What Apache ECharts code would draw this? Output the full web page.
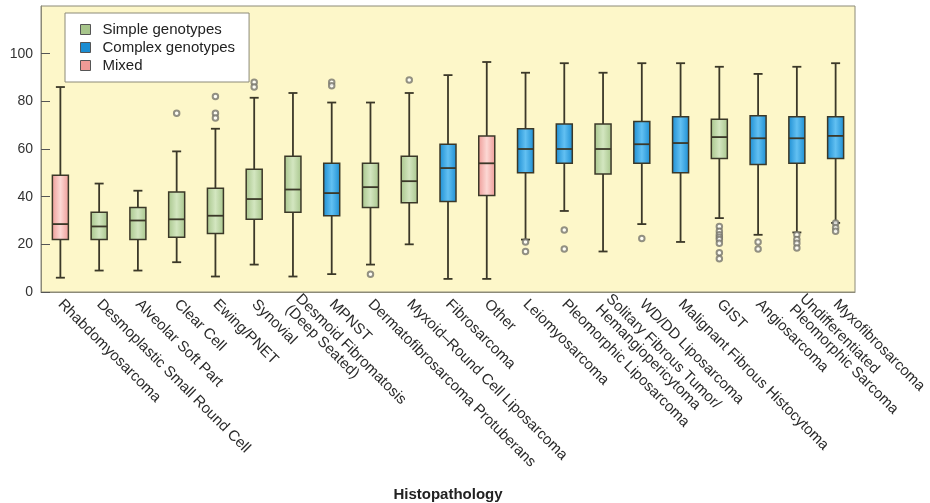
<!DOCTYPE html>
<html>
<head>
<meta charset="utf-8">
<script src="https://cdn.jsdelivr.net/npm/echarts@6/dist/echarts.min.js"></script>
<style>
html,body{margin:0;padding:0;background:#fff;}
#chart{width:930px;height:503px;}
</style>
</head>
<body>
<div id="chart"></div>
<script>
var categories = ['Rhabdomyosarcoma','Desmoplastic Small Round Cell','Alveolar Soft Part','Clear Cell','Ewing/PNET','Synovial','Desmoid Fibromatosis\n(Deep Seated)','MPNST','Dermatofibrosarcoma Protuberans','Myxoid\u2013Round Cell Liposarcoma','Fibrosarcoma','Other','Leiomyosarcoma','Pleomorphic Liposarcoma','Solitary Fibrous Tumor/\nHemangiopericytoma','WD/DD Liposarcoma','Malignant Fibrous Histocytoma','GIST','Angiosarcoma','Undifferentiated\nPleomorphic Sarcoma','Myxofibrosarcoma'];
var groups = ['M','S','S','S','S','S','S','C','S','S','C','M','C','C','S','C','C','S','C','C','C'];
var lowValues = [6, 9, 9, 12.5, 6.5, 11.5, 6.5, 7.5, 11.5, 20, 5.5, 5.5, 22, 34, 17, 28.5, 21, 31, 24, 25, 29];
var q1Values = [22, 22, 22, 23, 24.5, 30.5, 33.5, 32, 35.5, 37.5, 38, 40.5, 50, 54, 49.5, 54, 50, 56, 53.5, 54, 56];
var medianValues = [28.5, 27.5, 30, 30.5, 32, 39, 43, 41.5, 44, 46.5, 52, 54, 60, 60, 60, 62, 62.5, 65, 64.5, 64.5, 65.5];
var q3Values = [49, 33.5, 35.5, 42, 43.5, 51.5, 57, 54, 54, 57, 62, 65.5, 68.5, 70.5, 70.5, 71.5, 73.5, 72.5, 74, 73.5, 73.5];
var highValues = [86, 45.5, 42.5, 59, 68.5, 81.5, 83.5, 79.5, 79.5, 83.5, 91, 96.5, 92, 96, 92, 96, 96, 94.5, 91.5, 94.5, 96];
var outliers = [
  [3, 75],
  [4, 82], [4, 75], [4, 73],
  [5, 88], [5, 86],
  [7, 88], [7, 86.5],
  [8, 7.5],
  [9, 89],
  [12, 21], [12, 17],
  [13, 26], [13, 18],
  [15, 22.5],
  [17, 27.5], [17, 25.5], [17, 24], [17, 23], [17, 22], [17, 20.5], [17, 16.5], [17, 14],
  [18, 21], [18, 18],
  [19, 24], [19, 22], [19, 20.5], [19, 18.5],
  [20, 29], [20, 27], [20, 25.5]
];
var yTicks = [0, 20, 40, 60, 80, 100];
var groupNames = {S: 'Simple genotypes', C: 'Complex genotypes', M: 'Mixed'};

var palette = {
  S: {edge: '#a7c58b', mid: '#d3e6c0'},
  C: {edge: '#1b8dd2', mid: '#62c0f2'},
  M: {edge: '#ee9a96', mid: '#fcd8d4'}
};
var lineColor = '#3b3828';

function grad(g) {
  return new echarts.graphic.LinearGradient(0, 0, 1, 0, [
    {offset: 0, color: palette[g].edge},
    {offset: 0.5, color: palette[g].mid},
    {offset: 1, color: palette[g].edge}
  ]);
}

function makeData(g) {
  var out = [];
  for (var i = 0; i < categories.length; i++) {
    if (groups[i] === g) out.push([i, lowValues[i], q1Values[i], medianValues[i], q3Values[i], highValues[i]]);
  }
  return out;
}

function renderBox(g) {
  return function (params, api) {
    var idx = api.value(0);
    var pLow = api.coord([idx, api.value(1)]);
    var pQ1 = api.coord([idx, api.value(2)]);
    var pMed = api.coord([idx, api.value(3)]);
    var pQ3 = api.coord([idx, api.value(4)]);
    var pHigh = api.coord([idx, api.value(5)]);
    var x = pMed[0];
    var bw = 16, cw = 9;
    var ls = {stroke: lineColor, lineWidth: 1.8};
    return {
      type: 'group',
      children: [
        {type: 'line', shape: {x1: x, y1: pLow[1], x2: x, y2: pQ1[1]}, style: ls},
        {type: 'line', shape: {x1: x, y1: pQ3[1], x2: x, y2: pHigh[1]}, style: ls},
        {type: 'line', shape: {x1: x - cw / 2, y1: pLow[1], x2: x + cw / 2, y2: pLow[1]}, style: ls},
        {type: 'line', shape: {x1: x - cw / 2, y1: pHigh[1], x2: x + cw / 2, y2: pHigh[1]}, style: ls},
        {type: 'rect', shape: {x: x - bw / 2, y: pQ3[1], width: bw, height: pQ1[1] - pQ3[1]},
          style: {fill: grad(g), stroke: lineColor, lineWidth: 1.5}},
        {type: 'line', shape: {x1: x - bw / 2, y1: pMed[1], x2: x + bw / 2, y2: pMed[1]}, style: ls}
      ]
    };
  };
}

var series = ['S', 'C', 'M'].map(function (g) {
  return {
    name: groupNames[g],
    type: 'custom',
    renderItem: renderBox(g),
    encode: {x: 0, y: [1, 2, 3, 4, 5]},
    itemStyle: {color: palette[g].edge},
    data: makeData(g),
    z: 3
  };
});
series.push({
  name: 'Outliers',
  type: 'scatter',
  symbol: 'emptyCircle',
  symbolSize: 5.5,
  itemStyle: {color: '#77766c', borderColor: '#77766c', borderWidth: 1.2},
  data: outliers,
  z: 4
});

var chart = echarts.init(document.getElementById('chart'));
chart.setOption({
  animation: false,
  textStyle: {fontFamily: 'Liberation Sans, Arial, sans-serif'},
  grid: {left: 41, right: 75, top: 6, bottom: 211, show: true, containLabel: false,
    outerBoundsMode: 'none',
    backgroundColor: '#fdf7c9', borderColor: '#8c8a78', borderWidth: 1},
  legend: {
    orient: 'vertical', left: 65, top: 13,
    padding: [9, 14, 9, 15],
    backgroundColor: '#ffffff', borderColor: '#8c8a78', borderWidth: 1,
    itemWidth: 10, itemHeight: 10, itemGap: 3,
    textStyle: {fontSize: 15, color: '#222', padding: [0, 0, 0, 7]},
    data: ['S', 'C', 'M'].map(function (g) {
      return {name: groupNames[g], icon: 'rect',
        itemStyle: {color: palette[g].edge, borderColor: '#555', borderWidth: 1}};
    })
  },
  xAxis: {
    type: 'category',
    data: categories,
    name: 'Histopathology',
    nameLocation: 'middle',
    nameGap: 195,
    nameTextStyle: {fontSize: 15, fontWeight: 'bold', color: '#222'},
    axisLine: {lineStyle: {color: '#8c8a78', width: 1}},
    axisTick: {inside: true, alignWithLabel: true, length: 9, lineStyle: {color: '#555', width: 1}},
    axisLabel: {rotate: -45, fontSize: 15, color: '#2a2a2a', margin: 10, interval: 0},
    splitLine: {show: false}
  },
  yAxis: {
    type: 'value',
    min: 0, max: 120, interval: 20,
    axisLine: {show: true, lineStyle: {color: '#8c8a78'}},
    axisTick: {show: true, inside: true, length: 9, lineStyle: {color: '#555'}},
    axisLabel: {fontSize: 14, color: '#333', margin: 8, showMaxLabel: false,
      formatter: function (v) { return yTicks.indexOf(v) >= 0 ? String(v) : ''; }},
    splitLine: {show: false}
  },
  series: series
});
</script>
</body>
</html>
